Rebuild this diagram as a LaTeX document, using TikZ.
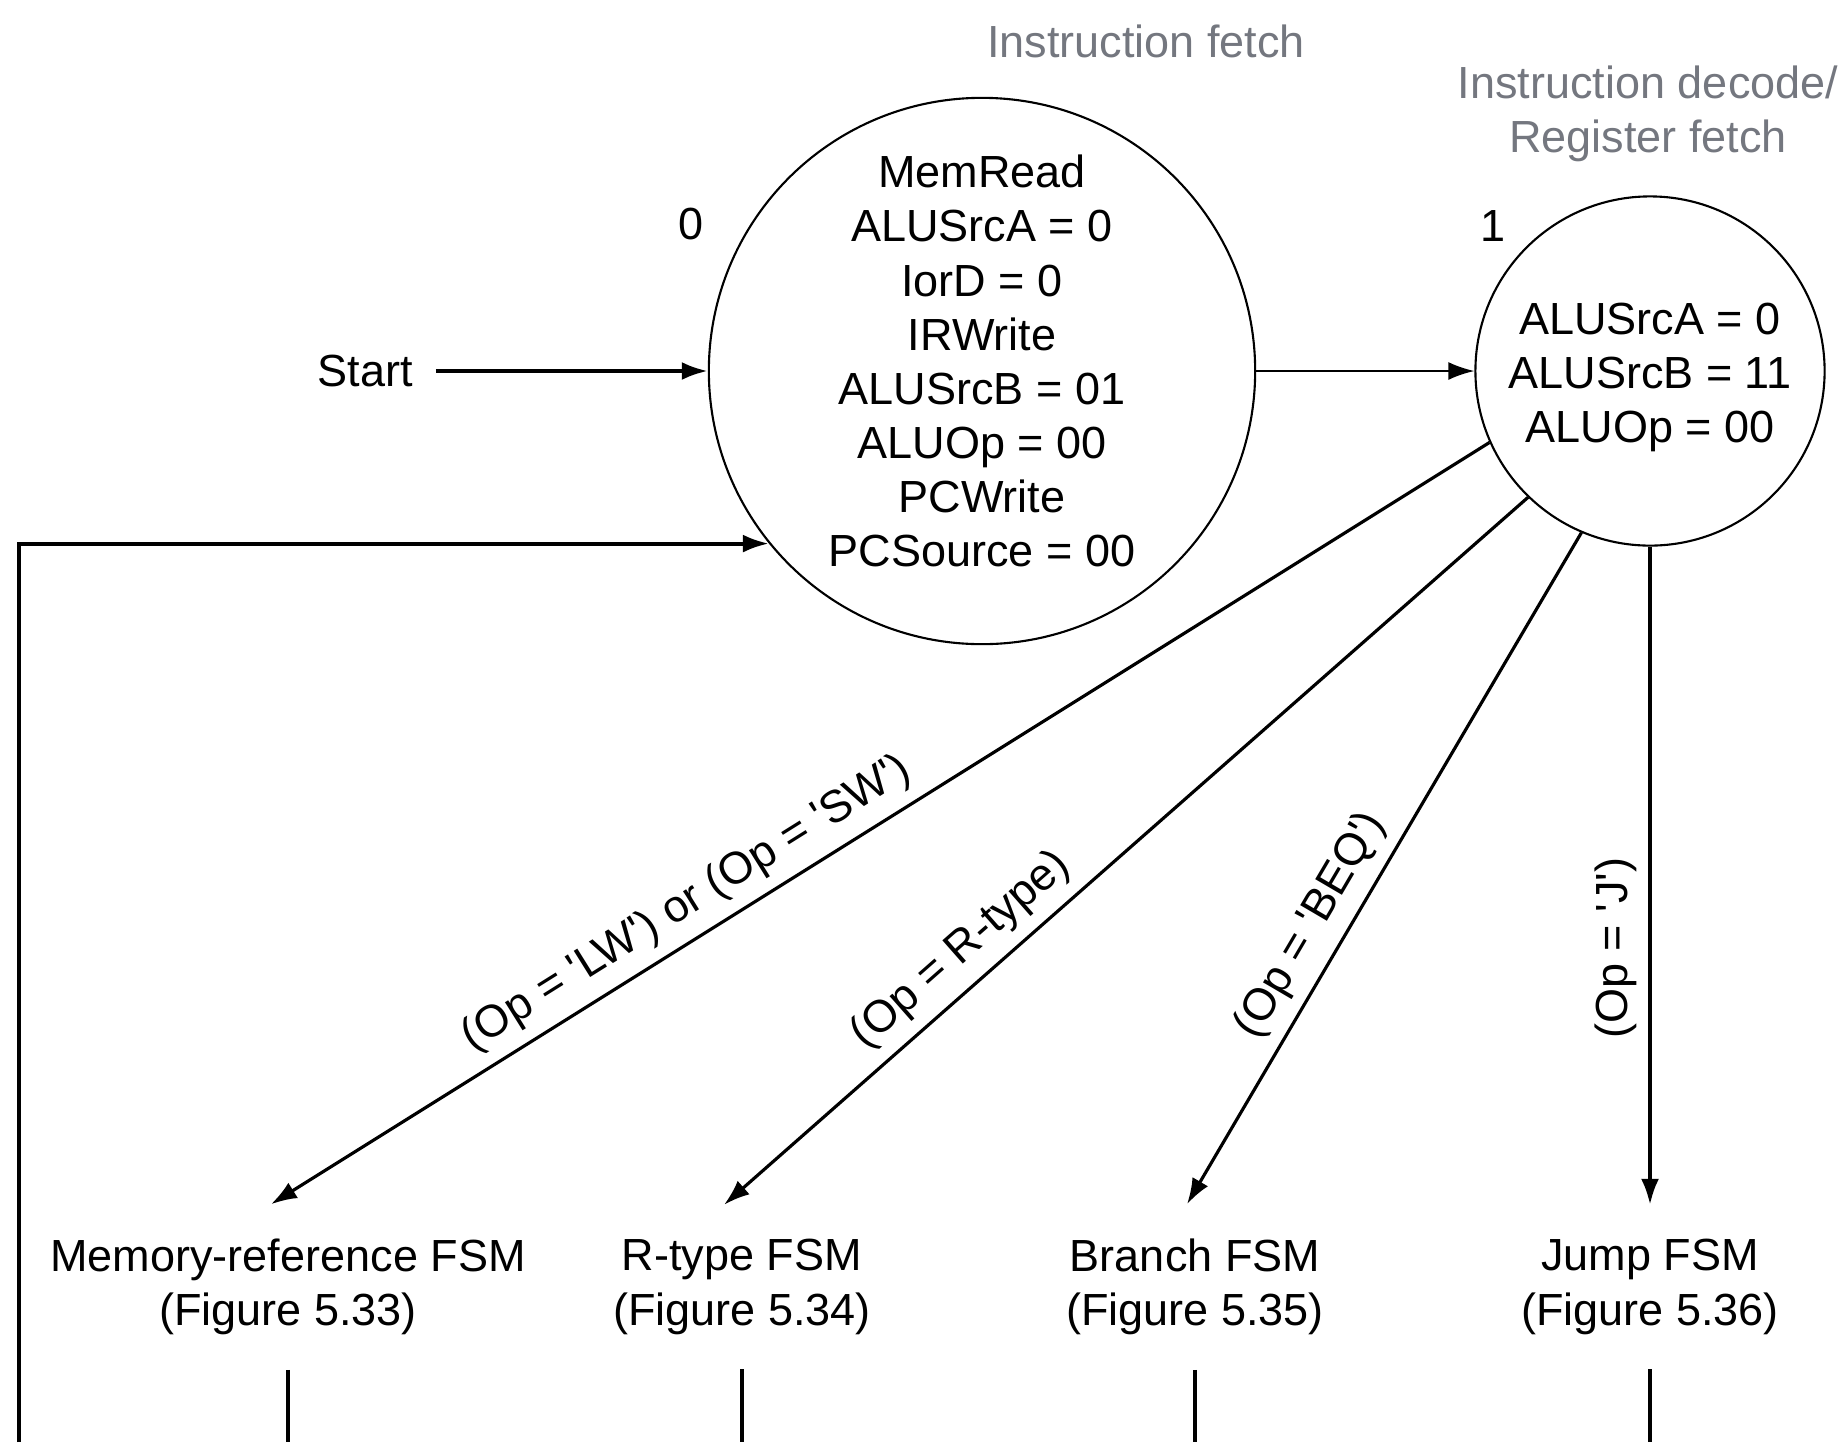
\documentclass[tikz,border=0pt]{standalone}
\usepackage{fontspec}
\setmainfont{Liberation Sans}
\usepackage{xcolor}
\usepackage{tikz}
\usetikzlibrary{arrows.meta,calc}
\definecolor{phasegray}{HTML}{74777F}
\newcommand{\opq}[1]{\textquotesingle#1\textquotesingle}

\begin{document}
\begin{tikzpicture}[x=0.01cm, y=-0.01cm, >={Latex[length=2.6mm,width=1.8mm]},
  every node/.style={font=\fontsize{12.8}{15.4}\selectfont},
  state/.style={circle, draw, line width=0.6pt, inner sep=0pt, align=center},
  phase/.style={text=phasegray, align=center},
  fsm/.style={align=center, inner xsep=0pt, inner ysep=3.4mm},
  trans/.style={->, line width=0.9pt}]
\useasboundingbox (0,0) rectangle (1846,1442);
% phase titles
\node[phase] (fetch) at (1146,41) {Instruction fetch};
\node[phase] (decode) at (1648,114) {Instruction decode/\\Register fetch};
% states
\node[state, minimum size=5.46cm, text depth=2mm] (s0) at (982,371) {MemRead\\ALUSrcA = 0\\IorD = 0\\IRWrite\\ALUSrcB = 01\\ALUOp = 00\\PCWrite\\PCSource = 00};
\node[state, minimum size=3.49cm, text height=15.2mm] (s1) at (1650,371) {ALUSrcA = 0\\ALUSrcB = 11\\ALUOp = 00};
\node (n0) at (691,224) {0};
\node (n1) at (1493,226) {1};
\node (start) at (365,371) {Start};
% next FSMs
\node[fsm] (mem) at (288,1287) {Memory-reference FSM\\(Figure 5.33)};
\node[fsm] (rtype) at (742,1287) {R-type FSM\\(Figure 5.34)};
\node[fsm] (branch) at (1195,1287) {Branch FSM\\(Figure 5.35)};
\node[fsm] (jump) at (1650,1287) {Jump FSM\\(Figure 5.36)};
\coordinate (back) at (19,1442);
\coordinate (bot) at (0,1442);
% transitions
\draw[->, line width=1.1pt] ([xshift=1.1mm]start.east) -- (s0.west);
\draw[->, line width=0.6pt] (s0) -- (s1);
\draw[->, line width=1.1pt] (back) |- (s0.219);
\draw[trans] (s1.204) -- node[pos=0.644, sloped, above] {(Op = \opq{LW}) or (Op = \opq{SW})} ([xshift=-1.7mm]mem.north);
\draw[trans] (s1.226) -- node[pos=0.677, sloped, above] {(Op = R-type)} ([xshift=-1.8mm]rtype.north);
\draw[trans] (s1.247) -- node[pos=0.611, sloped, above] {(Op = \opq{BEQ})} ([xshift=-0.8mm]branch.north);
\draw[->, line width=1.1pt] (s1.south) -- node[pos=0.61, rotate=90, above] {(Op = \opq{J})} (jump.north);
\foreach \f in {mem,rtype,branch,jump}
  \draw[line width=0.9pt] (\f.south) -- (\f.south |- bot);
\end{tikzpicture}
\end{document}
